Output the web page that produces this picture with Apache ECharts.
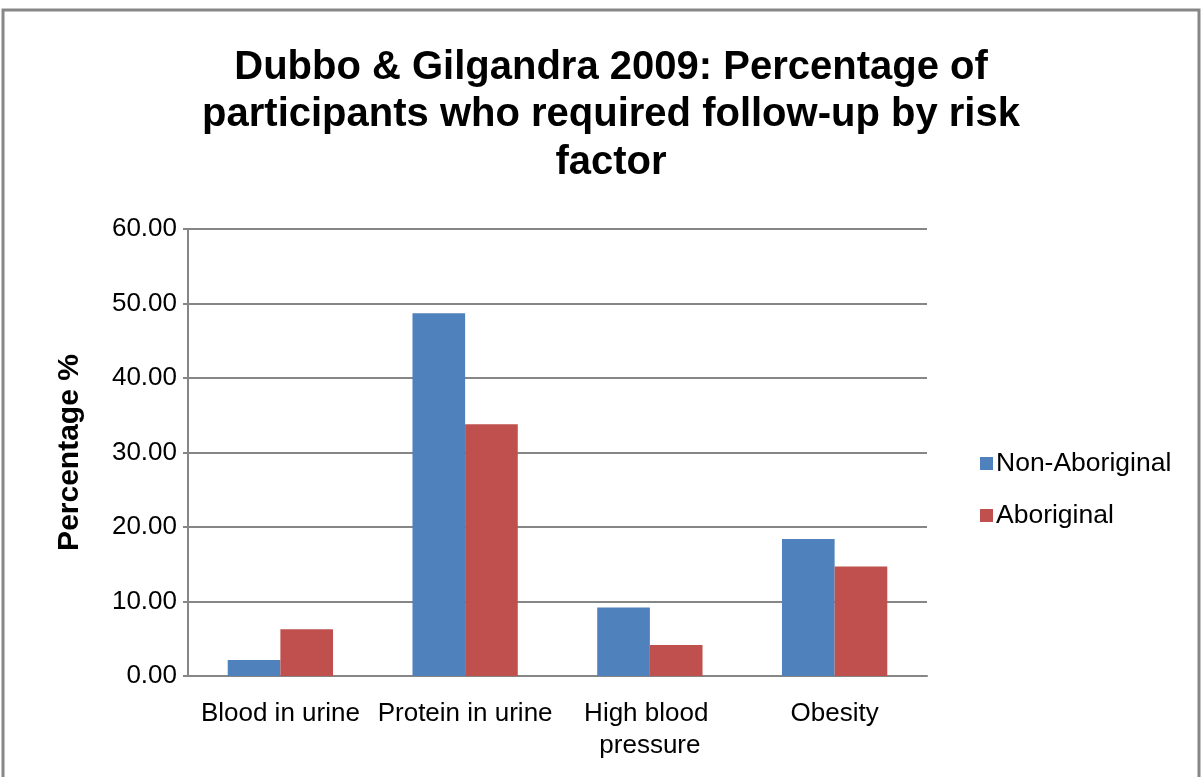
<!DOCTYPE html>
<html><head><meta charset="utf-8">
<script src="https://cdn.jsdelivr.net/npm/echarts@6/dist/echarts.min.js"></script>
<style>html,body{margin:0;padding:0;background:#fff}#c{width:1203px;height:777px}</style>
</head><body><div id="c"></div>
<script>
const categories = ['Blood in urine', 'Protein in urine', 'High blood pressure', 'Obesity'];
const nonAboriginal = [2.14, 48.7, 9.2, 18.4];
const aboriginal = [6.26, 33.8, 4.16, 14.7];
const seriesNames = ['Non-Aboriginal', 'Aboriginal'];
const titleText = 'Dubbo & Gilgandra 2009: Percentage of\nparticipants who required follow-up by risk\nfactor';
const yAxisName = 'Percentage %';

const font = '"Liberation Sans", Arial, sans-serif';
const chart = echarts.init(document.getElementById('c'), null, {renderer: 'canvas'});
chart.setOption({
  backgroundColor: '#fff',
  animation: false,
  title: {
    text: titleText, left: 606, top: 39, textAlign: 'center',
    textStyle: {fontFamily: font, fontSize: 40, fontWeight: 'bold', color: '#000', lineHeight: 47.5}
  },
  graphic: [{type: 'rect', shape: {x: 3, y: 10, width: 1196, height: 800},
    style: {fill: 'none', stroke: '#878787', lineWidth: 3}}],
  legend: {
    orient: 'vertical', left: 975, top: 445, itemWidth: 13, itemHeight: 13, itemGap: 25,
    icon: 'rect',
    textStyle: {fontFamily: font, fontSize: 26.5, color: '#000', padding: [0, 0, 0, -2]},
    data: seriesNames
  },
  grid: {left: 188, right: 276, top: 229, bottom: 101, containLabel: false},
  xAxis: {
    type: 'category', data: categories,
    axisLine: {lineStyle: {color: '#868686', width: 2}},
    axisTick: {show: false},
    axisLabel: {fontFamily: font, fontSize: 26, color: '#000', margin: 22, lineHeight: 32,
      width: 185, overflow: 'break', interval: 0}
  },
  yAxis: {
    type: 'value', min: 0, max: 60, interval: 10,
    name: yAxisName, nameLocation: 'middle', nameGap: 103, nameRotate: 90,
    nameTextStyle: {fontFamily: font, fontSize: 30, fontWeight: 'bold', color: '#000'},
    axisLine: {show: true, lineStyle: {color: '#868686', width: 2}},
    axisTick: {show: true, length: 5, lineStyle: {color: '#868686', width: 2}},
    splitLine: {lineStyle: {color: '#868686', width: 2}},
    axisLabel: {fontFamily: font, fontSize: 26, color: '#000', margin: 11,
      formatter: v => v.toFixed(2)}
  },
  series: [
    {name: seriesNames[0], type: 'bar', data: nonAboriginal, barGap: '0%', barCategoryGap: '43%',
      itemStyle: {color: '#4F81BD'}},
    {name: seriesNames[1], type: 'bar', data: aboriginal, barGap: '0%', barCategoryGap: '43%',
      itemStyle: {color: '#C0504D'}}
  ]
});
</script></body></html>
